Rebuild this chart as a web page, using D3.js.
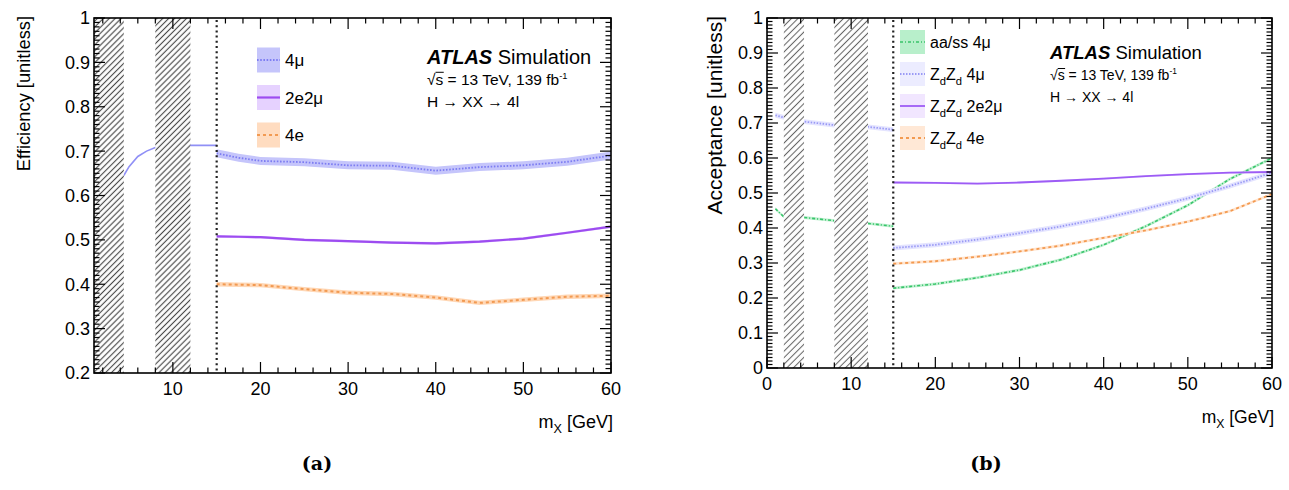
<!DOCTYPE html>
<html>
<head>
<meta charset="utf-8">
<script src="https://cdn.jsdelivr.net/npm/d3@7"></script>
<style>
  body { margin: 0; background: #fff; }
  svg { display: block; }
  text { font-family: "Liberation Sans", Arial, Helvetica, sans-serif; fill: #000; }
  text.caption { font-family: "DejaVu Serif", "Liberation Serif", serif; font-weight: bold; }
</style>
</head>
<body>
<svg id="fig" width="1289" height="490"></svg>
<script>
// ---------- (a) signal efficiency ----------
const effMassLow  = [4.4, 5, 6, 7, 8, 12, 15];
const effMassHigh = [15, 17.5, 20, 25, 30, 35, 40, 45, 50, 55, 60];
const eff4muLow   = [0.645, 0.665, 0.688, 0.700, 0.708, 0.713, 0.713];
const eff4mu      = [0.695, 0.685, 0.678, 0.675, 0.668, 0.667, 0.656, 0.664, 0.668, 0.676, 0.690];
const eff2e2mu    = [0.508, 0.507, 0.506, 0.500, 0.497, 0.494, 0.492, 0.496, 0.503, 0.516, 0.530];
const eff4e       = [0.400, 0.399, 0.398, 0.389, 0.381, 0.378, 0.370, 0.358, 0.365, 0.372, 0.374];
const effErr4mu = 0.009, effErr2e2mu = 0.003, effErr4e = 0.005;
const effVeto   = [[1, 4.4], [8, 12]];
const effYTicks = [0.2, 0.3, 0.4, 0.5, 0.6, 0.7, 0.8, 0.9, 1];
const effXTicks = [10, 20, 30, 40, 50, 60];

// ---------- (b) fiducial acceptance ----------
const accMassLow  = [1, 2, 4.4, 8, 12, 15];
const accMassHigh = [15, 20, 25, 30, 35, 40, 45, 50, 55, 60];
const accAaLow    = [0.455, 0.432, 0.430, 0.421, 0.413, 0.405];
const acc4muLow   = [0.722, 0.716, 0.704, 0.694, 0.689, 0.681];
const accAa       = [0.228, 0.240, 0.258, 0.280, 0.310, 0.352, 0.405, 0.465, 0.540, 0.600];
const acc4mu      = [0.343, 0.352, 0.367, 0.385, 0.405, 0.428, 0.455, 0.485, 0.520, 0.558];
const acc2e2mu    = [0.530, 0.529, 0.527, 0.530, 0.535, 0.541, 0.548, 0.554, 0.558, 0.560];
const acc4e       = [0.298, 0.305, 0.318, 0.333, 0.350, 0.372, 0.393, 0.418, 0.448, 0.497];
const accErrAa = 0.004, accErr4mu = 0.007, accErr2e2mu = 0.003, accErr4e = 0.004;
const accVeto   = [[2, 4.4], [8, 12]];
const accYTicks = [0, 0.1, 0.2, 0.3, 0.4, 0.5, 0.6, 0.7, 0.8, 0.9, 1];
const accXTicks = [0, 10, 20, 30, 40, 50, 60];

const lowMassEdge = 15;

const svg = d3.select("#fig");
const defs = svg.append("defs");

function hatchPattern(id, gap, color, width) {
  const p = defs.append("pattern")
    .attr("id", id)
    .attr("patternUnits", "userSpaceOnUse")
    .attr("width", gap).attr("height", gap)
    .attr("patternTransform", "rotate(45)");
  p.append("rect").attr("width", gap).attr("height", gap).attr("fill", "#fff");
  p.append("line")
    .attr("x1", gap / 2).attr("y1", 0).attr("x2", gap / 2).attr("y2", gap)
    .attr("stroke", color).attr("stroke-width", width);
}
hatchPattern("hatchA", 4.2, "#4a4a4a", 1.15);
hatchPattern("hatchB", 4.6, "#666", 1.05);

const fmtY = d => (d === 0 || d === 1) ? String(d) : d3.format(".1f")(d);

// text made of plain and subscript pieces; baseline restored after each subscript
function richText(sel, parts, size) {
  let shift = 0;
  parts.forEach(([t, sub]) => {
    const ts = sel.append("tspan").text(t);
    if (sub) {
      ts.attr("font-size", size * 0.7).attr("dy", size * 0.3 - shift);
      shift = size * 0.3;
    } else {
      ts.attr("dy", -shift);
      shift = 0;
    }
  });
}

function drawPanel(p) {
  const x = d3.scaleLinear().domain(p.xDomain).range([p.left, p.right]);
  const y = d3.scaleLinear().domain(p.yDomain).range([p.bottom, p.top]);
  const g = svg.append("g");
  const clipId = p.id + "-clip";
  defs.append("clipPath").attr("id", clipId)
    .append("rect")
    .attr("x", p.left).attr("y", p.top)
    .attr("width", p.right - p.left).attr("height", p.bottom - p.top);

  const plot = g.append("g").attr("clip-path", `url(#${clipId})`);

  // curves with uncertainty bands
  p.series.forEach(s => {
    s.segments.forEach(seg => {
      const pts = seg.mass.map((m, i) => ({ m, v: seg.values[i] }));
      if (seg.band !== false && s.err) {
        plot.append("path").datum(pts)
          .attr("d", d3.area().x(d => x(d.m)).y0(d => y(d.v - s.err)).y1(d => y(d.v + s.err)))
          .attr("fill", s.band);
      }
      plot.append("path").datum(pts)
        .attr("d", d3.line().x(d => x(d.m)).y(d => y(d.v)))
        .attr("fill", "none")
        .attr("stroke", seg.color || s.color)
        .attr("stroke-width", seg.width || s.width)
        .attr("stroke-dasharray", seg.dash !== undefined ? seg.dash : (s.dash || null));
    });
  });

  // vetoed mass windows
  p.veto.forEach(([a, b]) => {
    plot.append("rect")
      .attr("x", x(a)).attr("y", p.top)
      .attr("width", x(b) - x(a)).attr("height", p.bottom - p.top)
      .attr("fill", `url(#${p.hatch})`);
  });

  // boundary of the low-mass region
  g.append("line")
    .attr("x1", x(lowMassEdge)).attr("x2", x(lowMassEdge))
    .attr("y1", p.top + 2).attr("y2", p.bottom)
    .attr("stroke", "#222").attr("stroke-width", 2.2)
    .attr("stroke-dasharray", "2,3.2");

  // frame
  g.append("rect")
    .attr("x", p.left).attr("y", p.top)
    .attr("width", p.right - p.left).attr("height", p.bottom - p.top)
    .attr("fill", "none").attr("stroke", "#000").attr("stroke-width", 1.6);

  const ax = g.append("g").attr("stroke", "#000").attr("stroke-width", 1.2);
  const majL = 11, minL = 5.5;
  // x ticks (bottom + top)
  const xMinor = d3.range(0, 60.001, 2).filter(v => v >= p.xDomain[0] && v <= p.xDomain[1]);
  xMinor.forEach(v => {
    const L = v % 10 === 0 ? majL : minL;
    ax.append("line").attr("x1", x(v)).attr("x2", x(v)).attr("y1", p.bottom).attr("y2", p.bottom - L);
    ax.append("line").attr("x1", x(v)).attr("x2", x(v)).attr("y1", p.top).attr("y2", p.top + L);
  });
  // y ticks (left + right)
  const yMinor = d3.range(0, 100.5, 1).map(v => v / 100)
    .filter(v => v >= p.yDomain[0] - 1e-9 && v <= p.yDomain[1] + 1e-9);
  yMinor.forEach(v => {
    const L = Math.round(v * 100) % 10 === 0 ? majL : minL;
    ax.append("line").attr("y1", y(v)).attr("y2", y(v)).attr("x1", p.left).attr("x2", p.left + L);
    ax.append("line").attr("y1", y(v)).attr("y2", y(v)).attr("x1", p.right).attr("x2", p.right - L);
  });

  // tick labels
  g.selectAll(null).data(p.xTicks).join("text")
    .attr("x", d => x(d)).attr("y", p.bottom + 22)
    .attr("text-anchor", "middle").attr("font-size", p.tickFont)
    .text(d => d);
  g.selectAll(null).data(p.yTicks).join("text")
    .attr("x", p.left - 4).attr("y", d => y(d) + p.tickFont * 0.36)
    .attr("text-anchor", "end").attr("font-size", p.tickFont)
    .text(fmtY);

  // axis titles
  const xt = g.append("text")
    .attr("x", p.right + 2).attr("y", p.bottom + 55)
    .attr("text-anchor", "end").attr("font-size", p.xTitleFont);
  richText(xt, [["m", false], ["X", true], [" [GeV]", false]], p.xTitleFont);

  g.append("text")
    .attr("transform", `translate(${p.yTitleX},${p.top - 2}) rotate(-90)`)
    .attr("text-anchor", "end").attr("font-size", p.yTitleFont)
    .text(p.yTitle);

  // legend
  p.series.forEach((s, i) => {
    const ly = p.legend.y + i * p.legend.step;
    const bx = p.legend.x, bw = p.legend.w, bh = p.legend.h;
    g.append("rect")
      .attr("x", bx).attr("y", ly - bh / 2).attr("width", bw).attr("height", bh)
      .attr("fill", s.legendFill || s.band);
    g.append("line")
      .attr("x1", bx).attr("x2", bx + bw).attr("y1", ly).attr("y2", ly)
      .attr("stroke", s.color).attr("stroke-width", s.width)
      .attr("stroke-dasharray", s.dash || null);
    const t = g.append("text")
      .attr("x", bx + bw + 5).attr("y", ly + p.legend.font * 0.36)
      .attr("font-size", p.legend.font);
    richText(t, s.label, p.legend.font);
  });

  // experiment label
  const a = p.atlas;
  const t1 = g.append("text").attr("x", a.x).attr("y", a.y).attr("font-size", a.big);
  t1.append("tspan").attr("font-weight", "bold").attr("font-style", "italic").text("ATLAS");
  t1.append("tspan").text(" Simulation");
  const t2 = g.append("text").attr("x", a.x).attr("y", a.y + a.gap1).attr("font-size", a.small);
  t2.append("tspan").text("\u221As");
  t2.append("tspan").text(" = 13 TeV, 139 fb");
  t2.append("tspan").attr("font-size", a.small * 0.6).attr("dy", -a.small * 0.4).text("-1");
  g.append("line")
    .attr("x1", a.x + a.small * 0.55).attr("x2", a.x + a.small * 1.08)
    .attr("y1", a.y + a.gap1 - a.small * 0.82).attr("y2", a.y + a.gap1 - a.small * 0.82)
    .attr("stroke", "#000").attr("stroke-width", 1);
  g.append("text").attr("x", a.x).attr("y", a.y + a.gap1 + a.gap2).attr("font-size", a.small)
    .text("H \u2192 XX \u2192 4l");

  // caption
  g.append("text")
    .attr("class", "caption")
    .attr("x", p.caption.x).attr("y", p.caption.y)
    .attr("text-anchor", "middle")
    .attr("font-size", 19)
    .text(p.caption.text);
}

drawPanel({
  id: "eff",
  left: 94, right: 611, top: 18, bottom: 373,
  xDomain: [1, 60], yDomain: [0.2, 1],
  xTicks: effXTicks, yTicks: effYTicks,
  tickFont: 18, xTitleFont: 18, yTitleFont: 18.3,
  yTitle: "Efficiency [unitless]", yTitleX: 30,
  veto: effVeto, hatch: "hatchA",
  series: [
    { label: [["4\u03bc", false]], color: "#7d7df2", band: "#c5c5fb", width: 1.8, dash: "1.6,1.6", err: effErr4mu,
      segments: [{ mass: effMassLow, values: eff4muLow, band: false, width: 1.6, dash: null, color: "#9090f6" },
                 { mass: effMassHigh, values: eff4mu }] },
    { label: [["2e2\u03bc", false]], color: "#9d4cf0", band: "#e0c8ff", width: 2.2, err: effErr2e2mu,
      legendFill: "#e6d2ff",
      segments: [{ mass: effMassHigh, values: eff2e2mu }] },
    { label: [["4e", false]], color: "#f29a52", band: "#ffd7b5", width: 2, dash: "3,3", err: effErr4e,
      legendFill: "#ffdcc0",
      segments: [{ mass: effMassHigh, values: eff4e }] }
  ],
  legend: { x: 257, y: 60, step: 37.5, w: 23, h: 25, font: 17 },
  atlas: { x: 427, y: 64, gap1: 21, gap2: 22, big: 20, small: 15.5 },
  caption: { x: 317, y: 470, text: "(a)" }
});

drawPanel({
  id: "acc",
  left: 767, right: 1272, top: 18, bottom: 368,
  xDomain: [0, 60], yDomain: [0, 1],
  xTicks: accXTicks, yTicks: accYTicks,
  tickFont: 18, xTitleFont: 17.5, yTitleFont: 21,
  yTitle: "Acceptance [unitless]", yTitleX: 722,
  veto: accVeto, hatch: "hatchB",
  series: [
    { label: [["aa/ss 4\u03bc", false]], color: "#38c46a", band: "#bff0d0", width: 1.6, dash: "3,2,1,2", err: accErrAa,
      legendFill: "#b8efcb",
      segments: [{ mass: accMassLow, values: accAaLow }, { mass: accMassHigh, values: accAa }] },
    { label: [["Z", false], ["d", true], ["Z", false], ["d", true], [" 4\u03bc", false]], color: "#9a9af5", band: "#e4e4ff", width: 1.8, dash: "1.5,1.5", err: accErr4mu,
      legendFill: "#ececff",
      segments: [{ mass: accMassLow, values: acc4muLow }, { mass: accMassHigh, values: acc4mu }] },
    { label: [["Z", false], ["d", true], ["Z", false], ["d", true], [" 2e2\u03bc", false]], color: "#9d5cf5", band: "#eee2ff", width: 1.8, err: accErr2e2mu,
      legendFill: "#f1e6ff",
      segments: [{ mass: accMassHigh, values: acc2e2mu }] },
    { label: [["Z", false], ["d", true], ["Z", false], ["d", true], [" 4e", false]], color: "#f39a50", band: "#ffe4cf", width: 1.8, dash: "3,3", err: accErr4e,
      legendFill: "#ffe8d6",
      segments: [{ mass: accMassHigh, values: acc4e }] }
  ],
  legend: { x: 900, y: 42, step: 32, w: 25, h: 24, font: 16 },
  atlas: { x: 1050, y: 59, gap1: 21, gap2: 22, big: 18.5, small: 14 },
  caption: { x: 986, y: 470, text: "(b)" }
});
</script>
</body>
</html>
